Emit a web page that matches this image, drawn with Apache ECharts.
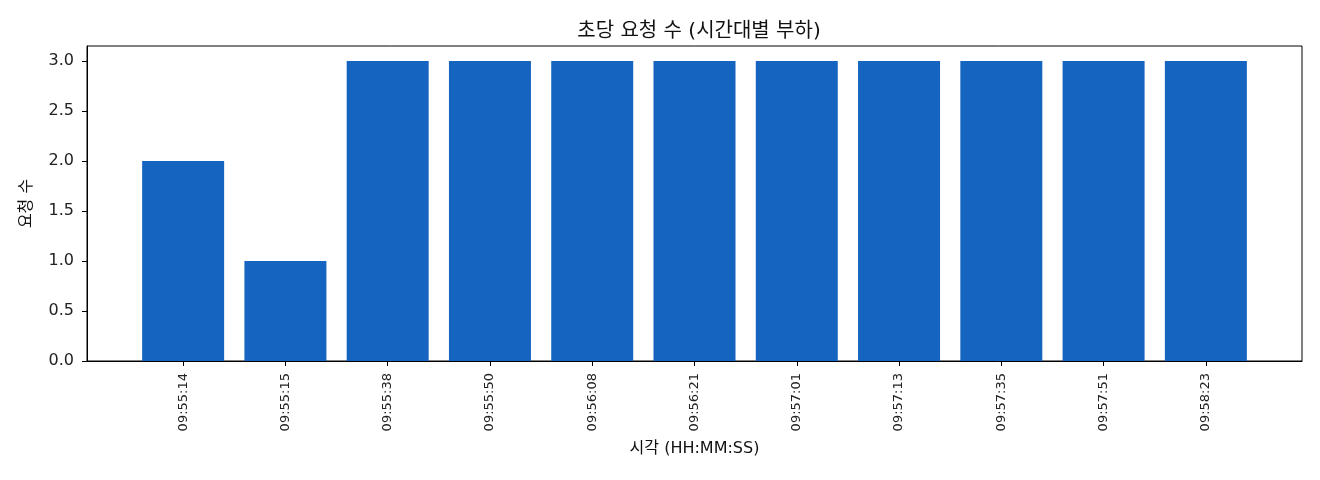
<!DOCTYPE html>
<html>
<head>
<meta charset="utf-8">
<script src="https://cdn.jsdelivr.net/npm/echarts@6/dist/echarts.min.js"></script>
<style>
    html, body { margin: 0; padding: 0; background: #fff; }
    #chart { width: 1320px; height: 480px; }
</style>
</head>
<body>
<div id="chart"></div>
<script>
    // 시각별 요청 수
    var times = ['09:55:14', '09:55:15', '09:55:38', '09:55:50', '09:56:08', '09:56:21',
                 '09:57:01', '09:57:13', '09:57:35', '09:57:51', '09:58:23'];
    var counts = [2, 1, 3, 3, 3, 3, 3, 3, 3, 3, 3];
    var yTicks = [0, 0.5, 1.0, 1.5, 2.0, 2.5, 3.0];

    var font = 'DejaVu Sans, Noto Sans CJK KR, sans-serif';
    var xIdx = times.map(function (t, i) { return i; });

    var chart = echarts.init(document.getElementById('chart'));
    var option = {
        animation: false,
        title: {
            text: '초당 요청 수 (시간대별 부하)',
            left: 694,
            top: 17,
            textAlign: 'center',
            textStyle: { fontFamily: font, fontSize: 20, fontWeight: 'normal', color: '#111' }
        },
        grid: {
            left: 87, right: 18, top: 46, bottom: 119,
            show: true, borderColor: '#000', borderWidth: 1
        },
        xAxis: {
            type: 'value',
            min: -0.94,
            max: 10.94,
            name: '시각 (HH:MM:SS)',
            nameLocation: 'middle',
            nameGap: 80,
            nameTextStyle: { fontFamily: font, fontSize: 16, color: '#111' },
            axisLine: { show: true, onZero: false, lineStyle: { color: '#000', width: 1 } },
            axisTick: { show: true, length: 5, customValues: xIdx, lineStyle: { color: '#000' } },
            axisLabel: {
                customValues: xIdx,
                rotate: 90,
                margin: 12,
                fontFamily: font,
                fontSize: 13,
                color: '#222',
                formatter: function (v) { return times[Math.round(v)]; }
            },
            splitLine: { show: false }
        },
        yAxis: {
            type: 'value',
            min: 0,
            max: 3.15,
            name: '요청 수',
            nameLocation: 'middle',
            nameRotate: 90,
            nameGap: 52,
            nameTextStyle: { fontFamily: font, fontSize: 16, color: '#111' },
            axisLine: { show: true, onZero: false, lineStyle: { color: '#000', width: 1 } },
            axisTick: { show: true, length: 5, customValues: yTicks, lineStyle: { color: '#000' } },
            axisLabel: {
                customValues: yTicks,
                margin: 13,
                fontFamily: font,
                fontSize: 16,
                color: '#222',
                formatter: function (v) { return v.toFixed(1); }
            },
            splitLine: { show: false }
        },
        series: [
            {
                type: 'bar',
                barWidth: 82,
                itemStyle: { color: '#1565C0' },
                data: times.map(function (t, i) { return [i, counts[i]]; })
            }
        ]
    };
    chart.setOption(option);
</script>
</body>
</html>
